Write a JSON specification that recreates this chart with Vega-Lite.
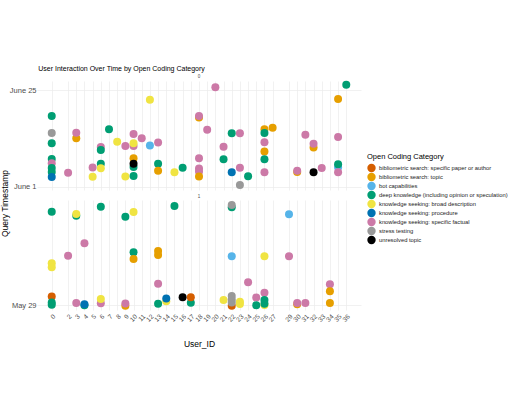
{
  "$schema": "https://vega.github.io/schema/vega-lite/v6.json",
  "padding": {"left": 0, "top": 65, "right": 0, "bottom": 0},
  "spacing": 10,
  "bounds": "flush",
  "title": {"text": "User Interaction Over Time by Open Coding Category", "anchor": "start", "fontSize": 7, "fontWeight": "normal", "font": "Liberation Sans", "color": "#000000", "dx": 38, "offset": 2},
  "config": {
    "font": "Liberation Sans",
    "view": {"stroke": null},
    "axis": {"grid": true, "gridColor": "#ebebeb", "gridWidth": 0.7, "domain": false, "ticks": false, "labelColor": "#4d4d4d", "labelFontSize": 7.5, "titleFontSize": 8.5, "titleFontWeight": "normal", "titleColor": "#000000"},
    "legend": {"titleFontSize": 7.5, "titleFontWeight": "normal", "titleColor": "#000000", "labelFontSize": 5.8, "labelColor": "#1a1a1a", "symbolType": "circle", "symbolSize": 70, "symbolStrokeWidth": 0, "rowPadding": 0, "labelOffset": 3, "titlePadding": 3, "labelLimit": 200}
  },
  "data": {"values": [
    {"panel": 0, "user_id": 0, "category": "deep knowledge (including opinion or speculation)", "timestamp": "2024-06-18T13:40:00"},
    {"panel": 0, "user_id": 0, "category": "stress testing", "timestamp": "2024-06-14T08:50:00"},
    {"panel": 0, "user_id": 0, "category": "deep knowledge (including opinion or speculation)", "timestamp": "2024-06-11T19:40:00"},
    {"panel": 0, "user_id": 0, "category": "deep knowledge (including opinion or speculation)", "timestamp": "2024-06-07T22:20:00"},
    {"panel": 0, "user_id": 0, "category": "knowledge seeking: specific factual", "timestamp": "2024-06-06T20:50:00"},
    {"panel": 0, "user_id": 0, "category": "deep knowledge (including opinion or speculation)", "timestamp": "2024-06-05T16:50:00"},
    {"panel": 0, "user_id": 0, "category": "deep knowledge (including opinion or speculation)", "timestamp": "2024-06-04T17:00:00"},
    {"panel": 0, "user_id": 0, "category": "knowledge seeking: procedure", "timestamp": "2024-06-03T11:30:00"},
    {"panel": 0, "user_id": 2, "category": "knowledge seeking: specific factual", "timestamp": "2024-06-04T13:00:00"},
    {"panel": 0, "user_id": 3, "category": "bibliometric search: topic", "timestamp": "2024-06-13T01:10:00"},
    {"panel": 0, "user_id": 3, "category": "knowledge seeking: specific factual", "timestamp": "2024-06-14T10:30:00"},
    {"panel": 0, "user_id": 5, "category": "knowledge seeking: specific factual", "timestamp": "2024-06-05T20:00:00"},
    {"panel": 0, "user_id": 5, "category": "knowledge seeking: broad description", "timestamp": "2024-06-03T13:10:00"},
    {"panel": 0, "user_id": 6, "category": "knowledge seeking: specific factual", "timestamp": "2024-06-10T21:40:00"},
    {"panel": 0, "user_id": 6, "category": "deep knowledge (including opinion or speculation)", "timestamp": "2024-06-10T03:50:00"},
    {"panel": 0, "user_id": 6, "category": "deep knowledge (including opinion or speculation)", "timestamp": "2024-06-06T18:30:00"},
    {"panel": 0, "user_id": 6, "category": "knowledge seeking: broad description", "timestamp": "2024-06-05T15:10:00"},
    {"panel": 0, "user_id": 7, "category": "deep knowledge (including opinion or speculation)", "timestamp": "2024-06-15T07:30:00"},
    {"panel": 0, "user_id": 8, "category": "knowledge seeking: broad description", "timestamp": "2024-06-12T05:00:00"},
    {"panel": 0, "user_id": 9, "category": "knowledge seeking: specific factual", "timestamp": "2024-06-11T03:40:00"},
    {"panel": 0, "user_id": 9, "category": "knowledge seeking: broad description", "timestamp": "2024-06-03T14:25:00"},
    {"panel": 0, "user_id": 10, "category": "knowledge seeking: specific factual", "timestamp": "2024-06-14T02:50:00"},
    {"panel": 0, "user_id": 10, "category": "knowledge seeking: specific factual", "timestamp": "2024-06-11T03:40:00"},
    {"panel": 0, "user_id": 10, "category": "knowledge seeking: broad description", "timestamp": "2024-06-11T19:40:00"},
    {"panel": 0, "user_id": 10, "category": "bibliometric search: topic", "timestamp": "2024-06-08T03:00:00"},
    {"panel": 0, "user_id": 10, "category": "deep knowledge (including opinion or speculation)", "timestamp": "2024-06-05T22:50:00"},
    {"panel": 0, "user_id": 10, "category": "unresolved topic", "timestamp": "2024-06-06T17:50:00"},
    {"panel": 0, "user_id": 10, "category": "deep knowledge (including opinion or speculation)", "timestamp": "2024-06-03T17:20:00"},
    {"panel": 0, "user_id": 11, "category": "knowledge seeking: specific factual", "timestamp": "2024-06-13T01:10:00"},
    {"panel": 0, "user_id": 12, "category": "knowledge seeking: broad description", "timestamp": "2024-06-22T14:25:00"},
    {"panel": 0, "user_id": 12, "category": "bot capabilities", "timestamp": "2024-06-11T06:30:00"},
    {"panel": 0, "user_id": 13, "category": "knowledge seeking: specific factual", "timestamp": "2024-06-12T00:15:00"},
    {"panel": 0, "user_id": 13, "category": "deep knowledge (including opinion or speculation)", "timestamp": "2024-06-06T18:30:00"},
    {"panel": 0, "user_id": 13, "category": "bibliometric search: topic", "timestamp": "2024-06-05T00:45:00"},
    {"panel": 0, "user_id": 15, "category": "knowledge seeking: broad description", "timestamp": "2024-06-04T15:20:00"},
    {"panel": 0, "user_id": 16, "category": "deep knowledge (including opinion or speculation)", "timestamp": "2024-06-05T18:40:00"},
    {"panel": 0, "user_id": 18, "category": "bibliometric search: topic", "timestamp": "2024-06-18T04:50:00"},
    {"panel": 0, "user_id": 18, "category": "knowledge seeking: specific factual", "timestamp": "2024-06-18T13:40:00"},
    {"panel": 0, "user_id": 18, "category": "knowledge seeking: specific factual", "timestamp": "2024-06-08T03:00:00"},
    {"panel": 0, "user_id": 18, "category": "knowledge seeking: specific factual", "timestamp": "2024-06-05T13:15:00"},
    {"panel": 0, "user_id": 18, "category": "knowledge seeking: specific factual", "timestamp": "2024-06-04T19:30:00"},
    {"panel": 0, "user_id": 18, "category": "bibliometric search: topic", "timestamp": "2024-06-03T14:25:00"},
    {"panel": 0, "user_id": 19, "category": "knowledge seeking: specific factual", "timestamp": "2024-06-15T04:20:00"},
    {"panel": 0, "user_id": 20, "category": "knowledge seeking: specific factual", "timestamp": "2024-06-25T16:20:00"},
    {"panel": 0, "user_id": 21, "category": "knowledge seeking: specific factual", "timestamp": "2024-06-10T23:30:00"},
    {"panel": 0, "user_id": 21, "category": "deep knowledge (including opinion or speculation)", "timestamp": "2024-06-07T20:40:00"},
    {"panel": 0, "user_id": 22, "category": "deep knowledge (including opinion or speculation)", "timestamp": "2024-06-14T07:40:00"},
    {"panel": 0, "user_id": 22, "category": "knowledge seeking: procedure", "timestamp": "2024-06-04T15:20:00"},
    {"panel": 0, "user_id": 23, "category": "knowledge seeking: specific factual", "timestamp": "2024-06-14T07:00:00"},
    {"panel": 0, "user_id": 23, "category": "knowledge seeking: specific factual", "timestamp": "2024-06-05T18:40:00"},
    {"panel": 0, "user_id": 23, "category": "stress testing", "timestamp": "2024-06-01T12:00:00"},
    {"panel": 0, "user_id": 24, "category": "deep knowledge (including opinion or speculation)", "timestamp": "2024-06-03T15:35:00"},
    {"panel": 0, "user_id": 26, "category": "bibliometric search: topic", "timestamp": "2024-06-15T06:40:00"},
    {"panel": 0, "user_id": 26, "category": "deep knowledge (including opinion or speculation)", "timestamp": "2024-06-14T08:50:00"},
    {"panel": 0, "user_id": 26, "category": "knowledge seeking: specific factual", "timestamp": "2024-06-12T01:25:00"},
    {"panel": 0, "user_id": 26, "category": "bibliometric search: topic", "timestamp": "2024-06-09T19:00:00"},
    {"panel": 0, "user_id": 26, "category": "deep knowledge (including opinion or speculation)", "timestamp": "2024-06-07T20:40:00"},
    {"panel": 0, "user_id": 26, "category": "knowledge seeking: specific factual", "timestamp": "2024-06-04T15:20:00"},
    {"panel": 0, "user_id": 27, "category": "bibliometric search: topic", "timestamp": "2024-06-15T16:20:00"},
    {"panel": 0, "user_id": 30, "category": "bibliometric search: topic", "timestamp": "2024-06-04T17:00:00"},
    {"panel": 0, "user_id": 30, "category": "knowledge seeking: specific factual", "timestamp": "2024-06-05T00:45:00"},
    {"panel": 0, "user_id": 31, "category": "knowledge seeking: specific factual", "timestamp": "2024-06-13T22:50:00"},
    {"panel": 0, "user_id": 32, "category": "bibliometric search: topic", "timestamp": "2024-06-10T18:40:00"},
    {"panel": 0, "user_id": 32, "category": "knowledge seeking: specific factual", "timestamp": "2024-06-11T17:15:00"},
    {"panel": 0, "user_id": 32, "category": "unresolved topic", "timestamp": "2024-06-04T15:20:00"},
    {"panel": 0, "user_id": 33, "category": "knowledge seeking: specific factual", "timestamp": "2024-06-05T16:50:00"},
    {"panel": 0, "user_id": 35, "category": "bibliometric search: topic", "timestamp": "2024-06-22T18:45:00"},
    {"panel": 0, "user_id": 35, "category": "knowledge seeking: specific factual", "timestamp": "2024-06-13T09:00:00"},
    {"panel": 0, "user_id": 35, "category": "bot capabilities", "timestamp": "2024-06-05T21:00:00"},
    {"panel": 0, "user_id": 35, "category": "deep knowledge (including opinion or speculation)", "timestamp": "2024-06-06T14:50:00"},
    {"panel": 0, "user_id": 35, "category": "knowledge seeking: specific factual", "timestamp": "2024-06-04T15:20:00"},
    {"panel": 0, "user_id": 36, "category": "deep knowledge (including opinion or speculation)", "timestamp": "2024-06-26T07:40:00"},
    {"panel": 1, "user_id": 0, "category": "knowledge seeking: broad description", "timestamp": "2024-05-29T08:20:00"},
    {"panel": 1, "user_id": 0, "category": "knowledge seeking: broad description", "timestamp": "2024-05-29T07:32:00"},
    {"panel": 1, "user_id": 0, "category": "deep knowledge (including opinion or speculation)", "timestamp": "2024-05-29T18:40:00"},
    {"panel": 1, "user_id": 0, "category": "bibliometric search: specific paper or author", "timestamp": "2024-05-29T01:42:00"},
    {"panel": 1, "user_id": 0, "category": "deep knowledge (including opinion or speculation)", "timestamp": "2024-05-29T00:30:00"},
    {"panel": 1, "user_id": 0, "category": "deep knowledge (including opinion or speculation)", "timestamp": "2024-05-29T00:04:00"},
    {"panel": 1, "user_id": 2, "category": "knowledge seeking: specific factual", "timestamp": "2024-05-29T09:52:00"},
    {"panel": 1, "user_id": 3, "category": "deep knowledge (including opinion or speculation)", "timestamp": "2024-05-29T17:52:00"},
    {"panel": 1, "user_id": 3, "category": "knowledge seeking: broad description", "timestamp": "2024-05-29T18:12:00"},
    {"panel": 1, "user_id": 3, "category": "knowledge seeking: specific factual", "timestamp": "2024-05-29T00:24:00"},
    {"panel": 1, "user_id": 4, "category": "knowledge seeking: specific factual", "timestamp": "2024-05-29T12:20:00"},
    {"panel": 1, "user_id": 4, "category": "deep knowledge (including opinion or speculation)", "timestamp": "2024-05-28T23:56:00"},
    {"panel": 1, "user_id": 4, "category": "knowledge seeking: procedure", "timestamp": "2024-05-29T00:10:00"},
    {"panel": 1, "user_id": 6, "category": "deep knowledge (including opinion or speculation)", "timestamp": "2024-05-29T19:40:00"},
    {"panel": 1, "user_id": 6, "category": "knowledge seeking: specific factual", "timestamp": "2024-05-29T00:20:00"},
    {"panel": 1, "user_id": 6, "category": "knowledge seeking: broad description", "timestamp": "2024-05-29T01:12:00"},
    {"panel": 1, "user_id": 9, "category": "deep knowledge (including opinion or speculation)", "timestamp": "2024-05-29T17:40:00"},
    {"panel": 1, "user_id": 9, "category": "bibliometric search: topic", "timestamp": "2024-05-28T23:52:00"},
    {"panel": 1, "user_id": 9, "category": "knowledge seeking: specific factual", "timestamp": "2024-05-29T00:18:00"},
    {"panel": 1, "user_id": 10, "category": "knowledge seeking: broad description", "timestamp": "2024-05-29T18:36:00"},
    {"panel": 1, "user_id": 10, "category": "deep knowledge (including opinion or speculation)", "timestamp": "2024-05-29T10:32:00"},
    {"panel": 1, "user_id": 10, "category": "bibliometric search: topic", "timestamp": "2024-05-29T09:12:00"},
    {"panel": 1, "user_id": 13, "category": "bibliometric search: topic", "timestamp": "2024-05-29T10:48:00"},
    {"panel": 1, "user_id": 13, "category": "bibliometric search: topic", "timestamp": "2024-05-29T10:00:00"},
    {"panel": 1, "user_id": 13, "category": "knowledge seeking: specific factual", "timestamp": "2024-05-29T04:16:00"},
    {"panel": 1, "user_id": 13, "category": "deep knowledge (including opinion or speculation)", "timestamp": "2024-05-29T00:16:00"},
    {"panel": 1, "user_id": 14, "category": "knowledge seeking: broad description", "timestamp": "2024-05-29T00:44:00"},
    {"panel": 1, "user_id": 14, "category": "knowledge seeking: procedure", "timestamp": "2024-05-29T01:18:00"},
    {"panel": 1, "user_id": 15, "category": "deep knowledge (including opinion or speculation)", "timestamp": "2024-05-29T19:48:00"},
    {"panel": 1, "user_id": 16, "category": "unresolved topic", "timestamp": "2024-05-29T01:32:00"},
    {"panel": 1, "user_id": 17, "category": "deep knowledge (including opinion or speculation)", "timestamp": "2024-05-29T00:28:00"},
    {"panel": 1, "user_id": 17, "category": "bibliometric search: specific paper or author", "timestamp": "2024-05-29T01:32:00"},
    {"panel": 1, "user_id": 21, "category": "knowledge seeking: broad description", "timestamp": "2024-05-29T01:00:00"},
    {"panel": 1, "user_id": 22, "category": "deep knowledge (including opinion or speculation)", "timestamp": "2024-05-29T19:32:00"},
    {"panel": 1, "user_id": 22, "category": "stress testing", "timestamp": "2024-05-29T20:00:00"},
    {"panel": 1, "user_id": 22, "category": "bot capabilities", "timestamp": "2024-05-29T09:44:00"},
    {"panel": 1, "user_id": 22, "category": "bibliometric search: specific paper or author", "timestamp": "2024-05-28T23:52:00"},
    {"panel": 1, "user_id": 22, "category": "stress testing", "timestamp": "2024-05-29T00:30:00"},
    {"panel": 1, "user_id": 22, "category": "stress testing", "timestamp": "2024-05-29T01:06:00"},
    {"panel": 1, "user_id": 22, "category": "stress testing", "timestamp": "2024-05-29T01:48:00"},
    {"panel": 1, "user_id": 23, "category": "knowledge seeking: broad description", "timestamp": "2024-05-29T00:40:00"},
    {"panel": 1, "user_id": 23, "category": "knowledge seeking: broad description", "timestamp": "2024-05-29T00:12:00"},
    {"panel": 1, "user_id": 24, "category": "knowledge seeking: specific factual", "timestamp": "2024-05-29T04:32:00"},
    {"panel": 1, "user_id": 25, "category": "knowledge seeking: specific factual", "timestamp": "2024-05-29T01:30:00"},
    {"panel": 1, "user_id": 25, "category": "deep knowledge (including opinion or speculation)", "timestamp": "2024-05-28T23:56:00"},
    {"panel": 1, "user_id": 26, "category": "knowledge seeking: broad description", "timestamp": "2024-05-29T09:44:00"},
    {"panel": 1, "user_id": 26, "category": "knowledge seeking: broad description", "timestamp": "2024-05-29T00:00:00"},
    {"panel": 1, "user_id": 26, "category": "knowledge seeking: specific factual", "timestamp": "2024-05-29T02:28:00"},
    {"panel": 1, "user_id": 26, "category": "deep knowledge (including opinion or speculation)", "timestamp": "2024-05-29T01:00:00"},
    {"panel": 1, "user_id": 26, "category": "deep knowledge (including opinion or speculation)", "timestamp": "2024-05-29T00:16:00"},
    {"panel": 1, "user_id": 29, "category": "bot capabilities", "timestamp": "2024-05-29T18:08:00"},
    {"panel": 1, "user_id": 29, "category": "knowledge seeking: specific factual", "timestamp": "2024-05-29T09:44:00"},
    {"panel": 1, "user_id": 30, "category": "bibliometric search: topic", "timestamp": "2024-05-29T00:08:00"},
    {"panel": 1, "user_id": 30, "category": "knowledge seeking: specific factual", "timestamp": "2024-05-29T00:24:00"},
    {"panel": 1, "user_id": 31, "category": "knowledge seeking: specific factual", "timestamp": "2024-05-29T00:24:00"},
    {"panel": 1, "user_id": 34, "category": "knowledge seeking: specific factual", "timestamp": "2024-05-29T04:08:00"},
    {"panel": 1, "user_id": 34, "category": "bibliometric search: topic", "timestamp": "2024-05-29T02:44:00"},
    {"panel": 1, "user_id": 34, "category": "bibliometric search: topic", "timestamp": "2024-05-29T00:24:00"}
  ]},
  "vconcat": [
    {
      "title": {"text": "0", "fontSize": 4.5, "color": "#4d4d4d", "fontWeight": "normal", "anchor": "middle", "offset": 2},
      "width": 324,
      "height": 109,
      "transform": [{"filter": "datum.panel == 0"}],
      "mark": {"type": "circle", "size": 64, "opacity": 1},
      "encoding": {
        "x": {"field": "user_id", "type": "quantitative", "scale": {"domain": [-1.8, 37.8], "nice": false, "zero": false},
              "axis": {"labels": false, "title": null, "values": [0,2,3,4,5,6,7,8,9,10,11,12,13,14,15,16,17,18,19,20,21,22,23,24,25,26,27,29,30,31,32,33,34,35,36]}},
        "y": {"field": "timestamp", "type": "temporal",
              "scale": {"domain": [{"year": 2024, "month": 5, "date": 31, "hours": 6}, {"year": 2024, "month": 6, "date": 27, "hours": 6}], "nice": false},
              "axis": {"title": "Query Timestamp", "format": "%B %-d", "values": [{"year": 2024, "month": 6, "date": 1}, {"year": 2024, "month": 6, "date": 25}], "titleY": 122, "titlePadding": 0, "labelPadding": 1}},
        "color": {"field": "category", "type": "nominal",
                  "scale": {"domain": ["bibliometric search: specific paper or author", "bibliometric search: topic", "bot capabilities", "deep knowledge (including opinion or speculation)", "knowledge seeking: broad description", "knowledge seeking: procedure", "knowledge seeking: specific factual", "stress testing", "unresolved topic"],
                            "range": ["#D55E00", "#E69F00", "#56B4E9", "#009E73", "#F0E442", "#0072B2", "#CC79A7", "#999999", "#000000"]},
                  "legend": {"title": "Open Coding Category", "orient": "none", "legendX": 330, "legendY": 72}}
      }
    },
    {
      "title": {"text": "1", "fontSize": 4.5, "color": "#4d4d4d", "fontWeight": "normal", "anchor": "middle", "offset": 2},
      "width": 324,
      "height": 110,
      "transform": [{"filter": "datum.panel == 1"}],
      "mark": {"type": "circle", "size": 64, "opacity": 1},
      "encoding": {
        "x": {"field": "user_id", "type": "quantitative", "scale": {"domain": [-1.8, 37.8], "nice": false, "zero": false},
              "axis": {"title": "User_ID", "labelAngle": -45, "labelFontSize": 6.5, "labelPadding": 3, "labelOverlap": false, "titlePadding": 17, "titleFontSize": 8.5, "values": [0,2,3,4,5,6,7,8,9,10,11,12,13,14,15,16,17,18,19,20,21,22,23,24,25,26,27,29,30,31,32,33,34,35,36]}},
        "y": {"field": "timestamp", "type": "temporal",
              "scale": {"domain": [{"year": 2024, "month": 5, "date": 28, "hours": 23}, {"year": 2024, "month": 5, "date": 29, "hours": 21}], "nice": false},
              "axis": {"title": null, "format": "%B %-d", "labelPadding": 1, "values": [{"year": 2024, "month": 5, "date": 29}]}},
        "color": {"field": "category", "type": "nominal"}
      }
    }
  ],
  "resolve": {"scale": {"y": "independent", "x": "independent"}}
}
